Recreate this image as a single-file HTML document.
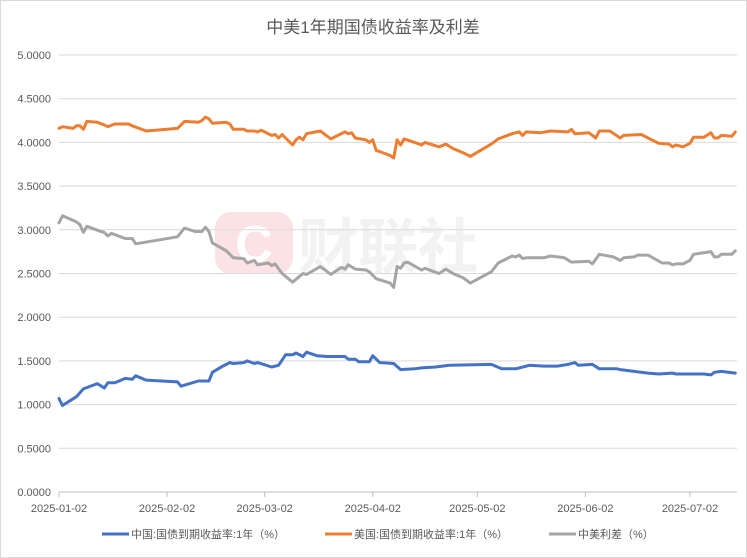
<!DOCTYPE html>
<html><head><meta charset="utf-8"><style>
html,body{margin:0;padding:0;background:#fff;}
#wrap{position:relative;width:747px;height:558px;overflow:hidden;}
svg text{font-family:"Liberation Sans","Noto Sans CJK SC",sans-serif;}
</style></head><body>
<div id="wrap">
<svg id="chart" width="747" height="558" viewBox="0 0 747 558" xmlns="http://www.w3.org/2000/svg">
<rect x="0.5" y="0.5" width="746" height="557" fill="#fff" stroke="#d9d9d9"/>
<text x="373" y="33" text-anchor="middle" font-size="17" fill="#595959">中美1年期国债收益率及利差</text>
<g opacity="0.5">
<rect x="215" y="212" width="78" height="62" rx="16" fill="#f7c6cc"/>
<text x="254" y="262" text-anchor="middle" font-size="52" font-weight="bold" fill="#fff">C</text>
<text x="298" y="268" font-size="60" font-weight="bold" fill="#e6e6e6">财联社</text>
</g>
<g id="grid"></g><g id="yticks"></g><g id="xticks"></g><g id="series"></g>
<g>
<g><line x1="102" y1="534" x2="129" y2="534" stroke="#4472c4" stroke-width="3"/><text x="131" y="538" font-size="11" fill="#595959">中国:国债到期收益率:1年（%）</text></g>
<g><line x1="325" y1="534" x2="352" y2="534" stroke="#ed7d31" stroke-width="3"/><text x="354" y="538" font-size="11" fill="#595959">美国:国债到期收益率:1年（%）</text></g>
<g><line x1="549" y1="534" x2="576" y2="534" stroke="#a5a5a5" stroke-width="3"/><text x="578" y="538" font-size="11" fill="#595959">中美利差（%）</text></g>
</g>
</svg></div>
<script>
const yTicks=[0,0.5,1,1.5,2,2.5,3,3.5,4,4.5,5];
const xTickDays=[0,31,59,90,120,151,181];
const xTickLabels=["2025-01-02","2025-02-02","2025-03-02","2025-04-02","2025-05-02","2025-06-02","2025-07-02"];
const cnDays=[0,1,5,7,11,13,14,16,19,21,22,25,34,35,40,43,44,47,49,50,53,54,56,57,61,63,65,67,68,70,71,74,77,82,83,85,86,89,90,92,96,98,102,104,108,112,124,127,131,135,139,143,146,148,149,153,155,160,161,165,169,172,176,177,185,187,188,190,194];
const cnVals=[1.07,0.99,1.09,1.18,1.24,1.19,1.25,1.25,1.30,1.29,1.33,1.28,1.26,1.21,1.27,1.27,1.37,1.44,1.48,1.47,1.48,1.50,1.47,1.48,1.43,1.45,1.57,1.57,1.59,1.55,1.60,1.56,1.55,1.55,1.52,1.52,1.49,1.49,1.56,1.48,1.47,1.40,1.41,1.42,1.43,1.45,1.46,1.41,1.41,1.45,1.44,1.44,1.46,1.48,1.45,1.46,1.41,1.41,1.40,1.38,1.36,1.35,1.36,1.35,1.35,1.34,1.37,1.38,1.36];
const usDays=[0,1,4,5,6,7,8,11,13,14,16,20,21,25,34,36,40,41,42,43,44,48,49,50,53,54,56,57,58,61,62,63,64,67,68,69,70,71,75,77,78,82,83,84,85,88,89,90,91,95,96,97,98,99,102,104,105,109,111,113,116,118,124,126,130,132,133,134,138,141,146,147,148,152,154,155,158,161,162,167,172,175,176,177,179,181,182,185,187,188,189,190,193,194];
const usVals=[4.16,4.18,4.16,4.19,4.19,4.15,4.24,4.23,4.20,4.18,4.21,4.21,4.19,4.13,4.16,4.24,4.23,4.25,4.29,4.27,4.22,4.23,4.21,4.15,4.15,4.13,4.13,4.12,4.14,4.08,4.09,4.05,4.09,3.97,4.03,4.06,4.03,4.10,4.13,4.07,4.04,4.12,4.10,4.11,4.05,4.03,4.00,4.03,3.91,3.85,3.82,4.03,3.97,4.04,4.00,3.97,4.00,3.95,3.98,3.93,3.88,3.84,3.98,4.04,4.10,4.12,4.08,4.12,4.11,4.13,4.12,4.15,4.10,4.11,4.05,4.13,4.13,4.05,4.08,4.09,3.99,3.98,3.95,3.97,3.95,3.99,4.06,4.06,4.11,4.05,4.05,4.08,4.07,4.12];
const spDays=[0,1,5,6,7,8,12,13,14,15,19,21,22,34,36,39,41,42,43,44,48,50,53,54,56,57,60,61,62,64,67,70,71,75,78,81,82,83,85,88,89,91,95,96,97,98,99,100,104,105,109,111,113,116,118,124,126,130,131,132,133,134,139,141,145,147,152,153,155,159,161,162,165,166,169,173,175,176,177,179,181,182,187,188,189,190,193,194];
const spVals=[3.08,3.16,3.09,3.06,2.97,3.04,2.98,2.97,2.93,2.96,2.90,2.90,2.84,2.92,3.02,2.98,2.98,3.03,2.98,2.85,2.76,2.68,2.67,2.62,2.65,2.60,2.62,2.59,2.61,2.50,2.40,2.50,2.49,2.58,2.49,2.57,2.55,2.60,2.55,2.54,2.52,2.44,2.39,2.34,2.58,2.56,2.62,2.63,2.54,2.56,2.50,2.55,2.50,2.45,2.39,2.52,2.62,2.70,2.69,2.71,2.67,2.68,2.68,2.70,2.68,2.63,2.64,2.61,2.72,2.69,2.65,2.68,2.69,2.71,2.71,2.62,2.62,2.60,2.61,2.61,2.65,2.72,2.75,2.69,2.69,2.72,2.72,2.76];

const NS="http://www.w3.org/2000/svg";
const X0=59,DAYPX=3.486,Y0=492,YPX=87.4;
function xs(d){return X0+d*DAYPX;}
function ys(v){return Y0-v*YPX;}
function mk(tag,attrs,parent){const e=document.createElementNS(NS,tag);for(const k in attrs)e.setAttribute(k,attrs[k]);parent.appendChild(e);return e;}
const grid=document.getElementById('grid'),yt=document.getElementById('yticks'),xt=document.getElementById('xticks'),ser=document.getElementById('series');
yTicks.forEach(v=>{
  const l=mk('line',{x1:59,x2:737,y1:ys(v),y2:ys(v),stroke:v===0?'#bfbfbf':'#d9d9d9','stroke-width':1},grid);
  
  
  const t=mk('text',{x:51,y:ys(v)+4,'text-anchor':'end','font-size':11,fill:'#595959'},yt);
  t.textContent=v.toFixed(4);
  
  
});
xTickDays.forEach((d,i)=>{
  const l=mk('line',{x1:xs(d),x2:xs(d),y1:492,y2:497,stroke:'#bfbfbf'},xt);
  
  
  const t=mk('text',{x:xs(d),y:512,'text-anchor':'middle','font-size':11,fill:'#595959'},xt);
  t.textContent=xTickLabels[i];
  
  
});
function line(days,vals,color,name){
  const d=days.map((dd,i)=>(i?'L':'M')+xs(dd).toFixed(1)+' '+ys(vals[i]).toFixed(1)).join(' ');
  const p=mk('path',{d:d,fill:'none',stroke:color,'stroke-width':3,'stroke-linejoin':'round','stroke-linecap':'round'},ser);
  
  
}
line(spDays,spVals,'#a5a5a5','spread-line');
line(usDays,usVals,'#ed7d31','us-yield-line');
line(cnDays,cnVals,'#4472c4','china-yield-line');
</script>
</body></html>
